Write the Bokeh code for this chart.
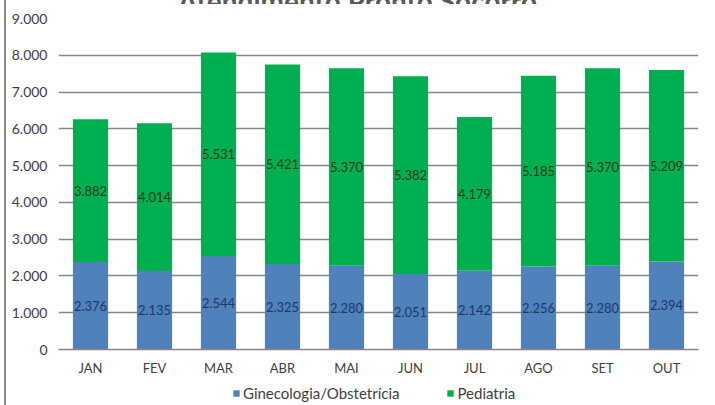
from bokeh.plotting import figure
from bokeh.models import (ColumnDataSource, FactorRange, Range1d, FixedTicker, LabelSet,
                          Legend, LegendItem, Div)
from bokeh.layouts import column
from bokeh.core.properties import value
from bokeh.embed import file_html
from bokeh.resources import INLINE

title_text = "Atendimento Pronto Socorro"
months = ["JAN", "FEV", "MAR", "ABR", "MAI", "JUN", "JUL", "AGO", "SET", "OUT"]
gineco = [2376, 2135, 2544, 2325, 2280, 2051, 2142, 2256, 2280, 2394]
pediatria = [3882, 4014, 5531, 5421, 5370, 5382, 4179, 5185, 5370, 5209]
y_ticks = [0, 1000, 2000, 3000, 4000, 5000, 6000, 7000, 8000, 9000]
series_names = ["Ginecologia/Obstetrícia", "Pediatria"]
series_cols = ["gin", "ped"]
colors = ["#4F81BD", "#00B050"]

def fmt(v):
    return f"{v:,}".replace(",", ".")

src = ColumnDataSource(dict(
    month=months,
    gin=gineco,
    ped=pediatria,
    gin_mid=[g / 2 for g in gineco],
    ped_mid=[g + p / 2 for g, p in zip(gineco, pediatria)],
    gin_txt=[fmt(v) for v in gineco],
    ped_txt=[fmt(v) for v in pediatria],
))

FONT = "Lato"
p = figure(x_range=FactorRange(*months, range_padding=0), y_range=Range1d(0, 9000),
           width=715, height=376, output_backend="svg", toolbar_location=None,
           min_border_left=58, min_border_right=17, min_border_top=14, min_border_bottom=31)
p.x_range.range_padding = 0

r = p.vbar_stack(series_cols, x="month", width=0.55, source=src,
                 color=colors, line_color=None)

p.add_layout(LabelSet(x="month", y="gin_mid", text="gin_txt", source=src,
                      text_align="center", text_baseline="middle", text_font=value(FONT),
                      text_font_size="13px", text_color="#1F3864"))
p.add_layout(LabelSet(x="month", y="ped_mid", text="ped_txt", source=src,
                      text_align="center", text_baseline="middle", text_font=value(FONT),
                      text_font_size="13px", text_color="#1E3A1E"))

p.yaxis.ticker = FixedTicker(ticks=y_ticks)
p.yaxis.major_label_overrides = {t: fmt(t) for t in y_ticks}
p.yaxis.axis_line_color = None
p.yaxis.major_tick_line_color = None
p.yaxis.minor_tick_line_color = None
p.yaxis.major_label_standoff = 5
p.yaxis.major_label_text_font = FONT
p.yaxis.major_label_text_font_size = "14px"
p.yaxis.major_label_text_color = "#404040"

p.xaxis.axis_line_color = "#868686"
p.xaxis.axis_line_width = 1.5
p.xaxis.major_tick_line_color = None
p.xaxis.minor_tick_line_color = None
p.xaxis.major_label_standoff = 4
p.xaxis.major_label_text_font = FONT
p.xaxis.major_label_text_font_size = "13px"
p.xaxis.major_label_text_color = "#404040"

p.xgrid.grid_line_color = None
p.ygrid.grid_line_color = "#868686"
p.ygrid.grid_line_width = 1.5
p.outline_line_color = None
p.border_fill_color = None

# legend strip below the chart (hidden copies of the series supply the swatches)
lg = figure(x_range=FactorRange(*months, range_padding=0), y_range=Range1d(0, 1),
            width=715, height=25, output_backend="svg", toolbar_location=None,
            min_border_left=0, min_border_right=0, min_border_top=0, min_border_bottom=0)
lg.axis.visible = False
lg.grid.grid_line_color = None
lg.outline_line_color = None
lg.border_fill_color = None
lg.background_fill_color = None
swatches = []
for col, c in zip(series_cols, colors):
    s = lg.vbar(x="month", top=col, width=0.55, source=src, color=c, line_color=None)
    s.visible = False
    swatches.append(s)
legend = Legend(items=[LegendItem(label=n, renderers=[s]) for n, s in zip(series_names, swatches)],
                orientation="horizontal", location=(174, 3),
                padding=0, margin=0, spacing=47, label_standoff=3,
                glyph_width=8, glyph_height=8, label_height=17,
                border_line_color=None, background_fill_alpha=0,
                inactive_fill_alpha=0,
                label_text_font=FONT, label_text_font_size="15px",
                label_text_color="#404040")
lg.add_layout(legend)

# chart title, cut off at the top edge as in the reference
title_div = Div(text=('<div style="font-family:Lato;font-weight:bold;font-size:28px;'
                      'line-height:28px;color:#595959;margin-top:-25px;'
                      'white-space:nowrap;text-align:center;width:715px;">'
                      + title_text + '</div>'),
                width=715, height=4, margin=(0, 0, 0, 0),
                styles={"overflow": "hidden"})

layout = column(title_div, p, lg, spacing=0,
                styles={"background": "linear-gradient(to right, #FFFFFF 4px, #8C8C8C 4px, "
                                      "#8C8C8C 6px, #FFFFFF 6px)"})

open("out.html", "w").write(file_html(layout, INLINE))
